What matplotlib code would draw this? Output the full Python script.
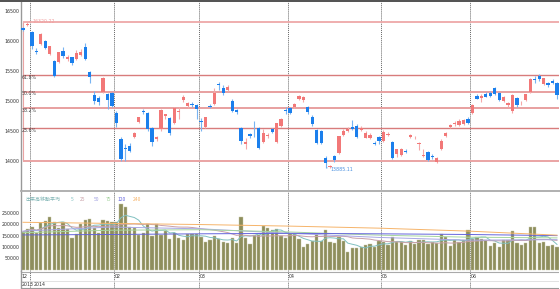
#! /usr/bin/env python

# import modules
# --------------
import numpy
import matplotlib
matplotlib.use('Agg')
import matplotlib.pyplot
from matplotlib.lines import Line2D
from matplotlib.patches import Rectangle

# data : daily candles, 2013/12/27 - 2014/06/27
# -------------------------------------------------------------------
opens = [16217, 16262, 16147, 15838, 15955, 15995, 15783, 15662, 15655, 15838,
         15700, 15728, 15705, 15767, 15900, 15483, 15105, 15050, 15155, 15110,
         15138, 14795, 14362, 14222, 14250, 14405, 14655, 14835, 14795, 14545,
         14362, 14528, 14750, 14712, 14638, 14817, 15017, 14917, 14950, 14933,
         14670, 14562, 14920, 14950, 15280, 15212, 15183, 15005, 14850, 14545,
         14290, 14450, 14475, 14550, 14322, 14410, 14528, 14322, 14583, 14850,
         14878, 14895, 15028, 15010, 14895, 14738, 14517, 14500, 14045, 13895,
         14083, 14138, 14433, 14505, 14560, 14590, 14520, 14390, 14380, 14300,
         14400, 14340, 14440, 14312, 14117, 14100, 14170, 14405, 14395, 14290,
         14080, 14150, 14080, 13980, 14195, 14420, 14570, 14610, 14600, 14620,
         14700, 14795, 15090, 15050, 15120, 15140, 15210, 15128, 15000, 14940,
         14838, 15045, 14960, 15017, 15150, 15360, 15410, 15283, 15300, 15330,
         15295]
highs = [16232, 16320, 16164, 15880, 16130, 16020, 15920, 15680, 15825, 15908,
         15760, 15740, 15850, 15860, 15962, 15500, 15160, 15090, 15400, 15130,
         15150, 14830, 14400, 14290, 14300, 14490, 14740, 14870, 14810, 14560,
         14420, 14860, 14790, 14730, 14900, 14900, 15095, 14990, 14985, 14950,
         14720, 14740, 14950, 15210, 15320, 15260, 15260, 15030, 14870, 14560,
         14380, 14470, 14672, 14570, 14540, 14460, 14545, 14640, 14720, 14900,
         14900, 14960, 15100, 15080, 14920, 14760, 14530, 14520, 14080, 13940,
         14100, 14420, 14530, 14560, 14680, 14610, 14580, 14500, 14460, 14330,
         14420, 14520, 14490, 14330, 14200, 14220, 14200, 14450, 14420, 14310,
         14200, 14160, 14110, 14060, 14360, 14480, 14610, 14660, 14700, 14700,
         14730, 14950, 15120, 15120, 15150, 15170, 15240, 15150, 15090, 14990,
         15110, 15060, 15000, 15120, 15380, 15420, 15450, 15390, 15320, 15360,
         15320]
lows = [16165, 16250, 15864, 15781, 15940, 15870, 15770, 15395, 15640, 15720,
        15660, 15600, 15690, 15750, 15680, 15295, 14950, 14940, 15140, 14867,
        14900, 14570, 14000, 13996, 14150, 14380, 14640, 14780, 14500, 14250,
        14340, 14500, 14700, 14440, 14620, 14700, 14990, 14890, 14900, 14700,
        14500, 14550, 14880, 14940, 15190, 15100, 15170, 14810, 14790, 14290,
        14200, 14380, 14400, 14200, 14300, 14380, 14470, 14300, 14570, 14780,
        14780, 14880, 15010, 14990, 14790, 14590, 14280, 14290, 13885, 13880,
        13990, 14120, 14420, 14490, 14520, 14380, 14500, 14390, 14360, 14260,
        14280, 14320, 14420, 14030, 14060, 14090, 14130, 14390, 14370, 14180,
        14060, 14000, 14040, 13960, 14180, 14400, 14550, 14590, 14590, 14600,
        14610, 14780, 15030, 14990, 15060, 15060, 15100, 15000, 14980, 14900,
        14800, 14900, 14940, 15000, 15140, 15300, 15340, 15260, 15240, 15290,
        15028]
closes = [16178, 16291, 15909, 15814, 16121, 15880, 15912, 15422, 15809, 15747,
          15734, 15641, 15796, 15821, 15696, 15392, 15006, 14985, 15383, 15017,
          14922, 14628, 14028, 14195, 14172, 14472, 14728, 14812, 14528, 14322,
          14405, 14850, 14778, 14462, 14878, 14838, 15072, 14972, 14928, 14862,
          14652, 14728, 14897, 15134, 15274, 15128, 15238, 14838, 14817, 14338,
          14310, 14411, 14462, 14224, 14475, 14430, 14488, 14628, 14700, 14830,
          14795, 14950, 15083, 15064, 14822, 14617, 14305, 14300, 13960, 13920,
          14017, 14417, 14505, 14530, 14535, 14395, 14550, 14460, 14429, 14290,
          14330, 14485, 14457, 14045, 14195, 14199, 14149, 14440, 14405, 14298,
          14096, 14017, 14075, 14042, 14337, 14462, 14602, 14636, 14670, 14681,
          14632, 14935, 15034, 15079, 15070, 15077, 15124, 15017, 15069, 14973,
          15097, 14933, 14975, 15115, 15361, 15349, 15369, 15376, 15266, 15308,
          15095]
volume = [167000, 179000, 189000, 160000, 204000, 215000, 234000, 209000, 182000, 212000,
          178000, 141000, 156000, 200000, 219000, 222000, 182000, 160000, 219000, 215000,
          209000, 212000, 290000, 275000, 189000, 185000, 153000, 163000, 200000, 150000,
          201000, 153000, 170000, 134000, 160000, 141000, 132000, 157000, 158000, 157000,
          142000, 123000, 130000, 148000, 135000, 120000, 119000, 141000, 116000, 232000,
          138000, 113000, 153000, 153000, 192000, 182000, 173000, 178000, 148000, 141000,
          158000, 158000, 134000, 98000, 111000, 127000, 157000, 127000, 173000, 120000,
          119000, 142000, 126000, 76000, 96000, 96000, 101000, 108000, 113000, 98000,
          126000, 123000, 108000, 142000, 123000, 123000, 108000, 127000, 113000, 130000,
          130000, 114000, 120000, 119000, 157000, 142000, 105000, 130000, 120000, 130000,
          175000, 135000, 144000, 135000, 130000, 104000, 119000, 98000, 130000, 130000,
          170000, 116000, 108000, 119000, 187000, 187000, 119000, 123000, 105000, 108000,
          100000]

# long volume averages, read at a few days (need history before the chart) --
ma_long_idx = [0, 20, 40, 60, 80, 100, 120]
ma50 = [170000, 188000, 180000, 160000, 142000, 130000, 132000]
ma75 = [163000, 174000, 176000, 166000, 152000, 143000, 140000]
ma120 = [153000, 155000, 158000, 160000, 158000, 155000, 150000]
ma240 = [209000, 204000, 199000, 192000, 183000, 170000, 152000]

# month separators / labels --
month_pos = [1.5, 20.5, 39.5, 59.5, 80.5, 100.5]
month_labels = ['12', '02', '03', '04', '05', '06']
month_label_pos = [-0.25, 20.7, 39.7, 59.7, 80.7, 100.7]
year_labels = ['2013', '2014']
year_label_pos = [-0.35, 2.35]

# fibonacci retracement --
fib_high = 16320.22
fib_low = 13995.86
fib_ratio = [0.618, 0.5, 0.382, 0.236]
fib_text = ['61.8%', '50.0%', '38.2%', '23.6%']
low_value = 13885.11
low_index = 68

price_ticks = [14000, 14500, 15000, 15500, 16000, 16500]
vol_ticks = [50000, 100000, 150000, 200000, 250000]


def moving_average(data, n):
    ret = []
    for i in range(len(data)):
        s = data[max(0, i - n + 1):i + 1]
        ret.append(sum(s) / len(s))
    return ret


# figure & axes
# -------------
W, H = 560., 289.
fig = matplotlib.pyplot.figure(figsize=(5.6, 2.89), dpi=100)
left = 21 / W
width = 538 / W
ax_p = fig.add_axes([left, (H - 190) / H, width, 188 / H])
ax_v = fig.add_axes([left, (H - 271) / H, width, 79 / H])
ax_d = fig.add_axes([left, 0, width, 18 / H])

n = len(closes)
x = numpy.arange(n)
xlim = (-0.45, n - 0.55)

for ax in [ax_p, ax_v, ax_d]:
    ax.set_xlim(*xlim)
    for s in ['top', 'right', 'bottom']:
        ax.spines[s].set_visible(False)
    ax.spines['left'].set_color('#999999')
    ax.spines['left'].set_linewidth(1.0)
    ax.set_xticks([])
    ax.tick_params(axis='y', length=0, pad=1, labelsize=3.4, labelcolor='#333333')
    for m in month_pos:
        ax.axvline(m, color='#666666', lw=0.7, ls=(0, (1, 1)), zorder=1)

# price panel
# -----------
o = numpy.array(opens, dtype=float)
c = numpy.array(closes, dtype=float)
hi = numpy.array(highs, dtype=float)
lo = numpy.array(lows, dtype=float)
up = c >= o
body_col = numpy.where(up, '#f27878', '#1b7fec')
wick_col = numpy.where(up, '#f5a8a8', '#78b4f2')
ax_p.vlines(x, lo, hi, colors=wick_col, lw=0.8, zorder=3)
ax_p.bar(x, numpy.maximum(numpy.abs(c - o), 10), bottom=numpy.minimum(o, c),
         width=0.72, color=body_col, linewidth=0, zorder=4)

# fibonacci lines --
rng = fib_high - fib_low
ax_p.hlines(fib_high, -0.05, xlim[1], color='#eea8a8', lw=1.3, zorder=2)
ax_p.hlines(fib_low, -0.05, xlim[1], color='#eaa4a4', lw=1.4, zorder=2)
ax_p.vlines(-0.05, fib_low, fib_high, color='#eaa4a4', lw=0.8, zorder=2)
for r, t in zip(fib_ratio, fib_text):
    lv = fib_low + r * rng
    col = '#d87c7c' if r in (0.618, 0.236) else '#e8a0a0'
    lw = 1.0 if r in (0.618, 0.236) else 1.4
    ax_p.hlines(lv, -0.05, xlim[1], color=col, lw=lw, zorder=2)
    ax_p.text(-0.2, lv + 5, t, fontsize=3.4, color='#444444', ha='left', va='top', zorder=5)

ax_p.annotate('{:.2f}'.format(fib_high), xy=(1.3, fib_high), xytext=(2.2, fib_high),
              fontsize=3.4, color='#f0a0a0', va='center', ha='left',
              arrowprops=dict(arrowstyle='-', color='#f0a0a0', lw=0.5))
ax_p.annotate('{:.2f}'.format(low_value), xy=(low_index + 0.3, low_value),
              xytext=(low_index + 1.0, low_value - 20),
              fontsize=3.4, color='#4a90e0', va='center', ha='left',
              arrowprops=dict(arrowstyle='-', color='#4a90e0', lw=0.5))

ax_p.set_ylim(13517, 16650)
ax_p.set_yticks(price_ticks)
ax_p.set_yticklabels([str(t) for t in price_ticks])

# volume panel
# ------------
ax_v.bar(x, volume, width=0.74, color='#8e8e5c', edgecolor='#c6c6a8', linewidth=0.3, zorder=2)
ma_lines = [
    (moving_average(volume, 5), x, '#80c0c0'),
    (moving_average(volume, 25), x, '#c8a0a8'),
    (ma50, ma_long_idx, '#a8a8e4'),
    (ma75, ma_long_idx, '#a6d6a0'),
    (ma120, ma_long_idx, '#6464dc'),
    (ma240, ma_long_idx, '#f6b46a'),
]
for vals, xx, col in ma_lines:
    ax_v.plot(xx, vals, color=col, lw=0.7, zorder=3)

ax_v.set_ylim(-6600, 343000)
ax_v.set_yticks(vol_ticks)
ax_v.set_yticklabels([str(t) for t in vol_ticks])

# legend --
cjk = ['Noto Sans CJK JP', 'DejaVu Sans']
legend_items = [('出来高移動平均', 25, '#7fb4b4'), ('5', 71, '#80c0c0'), ('25', 80, '#c8a0a8'),
                ('50', 94, '#a0a0e0'), ('75', 106, '#a0d09a'), ('120', 118, '#6464dc'),
                ('240', 133, '#f6b46a')]
for t, px, col in legend_items:
    ax_v.text((px - 21) / 538., 0.905, t, transform=ax_v.transAxes, fontsize=3.6,
              color=col, family=cjk, ha='left', va='center')

# date strip
# ----------
ax_d.set_ylim(0, 1)
ax_d.set_yticks([])
ax_d.axhline(0.94, color='#aaaaaa', lw=0.8)
ax_d.axhline(0.45, color='#dddddd', lw=0.6)
ax_d.axhline(0.05, color='#999999', lw=0.8)
for t, p in zip(month_labels, month_label_pos):
    ax_d.text(p, 0.7, t, fontsize=3.4, color='#333333', ha='left', va='center')
for t, p in zip(year_labels, year_label_pos):
    ax_d.text(p, 0.25, t, fontsize=3.4, color='#333333', ha='left', va='center')

# frame lines --
fig.add_artist(Rectangle((0, 1 - 1.6 / H), 1, 1.6 / H, transform=fig.transFigure,
                         color='#555555', lw=0))
fig.add_artist(Line2D([left, 1], [(H - 190.8) / H] * 2, transform=fig.transFigure,
                      color='#aaaaaa', lw=1.3))

fig.savefig('out.png', dpi=100)
